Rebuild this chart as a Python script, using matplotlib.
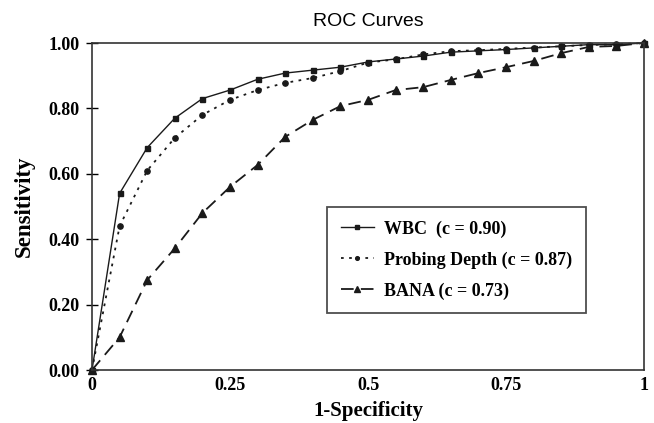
import matplotlib
matplotlib.use("Agg")
import matplotlib.pyplot as plt

x = [0.0, 0.05, 0.10, 0.15, 0.20, 0.25, 0.30, 0.35, 0.40, 0.45, 0.50,
     0.55, 0.60, 0.65, 0.70, 0.75, 0.80, 0.85, 0.90, 0.95, 1.0]
wbc = [0.0, 0.54, 0.68, 0.77, 0.83, 0.856, 0.889, 0.908, 0.917, 0.926, 0.942,
       0.951, 0.96, 0.972, 0.976, 0.98, 0.985, 0.99, 0.995, 0.995, 1.0]
probing = [0.0, 0.44, 0.61, 0.71, 0.78, 0.826, 0.856, 0.878, 0.893, 0.914, 0.94,
           0.95, 0.965, 0.975, 0.978, 0.982, 0.986, 0.99, 0.994, 0.996, 1.0]
bana = [0.0, 0.10, 0.275, 0.372, 0.48, 0.56, 0.627, 0.713, 0.765, 0.807, 0.826,
        0.856, 0.865, 0.887, 0.908, 0.926, 0.945, 0.969, 0.988, 0.991, 1.0]
labels = ["WBC  (c = 0.90)", "Probing Depth (c = 0.87)", "BANA (c = 0.73)"]
xticks = [0, 0.25, 0.5, 0.75, 1]
xticklabels = ["0", "0.25", "0.5", "0.75", "1"]
yticks = [0.0, 0.2, 0.4, 0.6, 0.8, 1.0]
yticklabels = ["0.00", "0.20", "0.40", "0.60", "0.80", "1.00"]

serif = ["Liberation Serif", "DejaVu Serif"]

fig = plt.figure(figsize=(6.54, 4.23), dpi=100)
ax = fig.add_axes([92/654, 1-370/423, (644-92)/654, (370-43)/423])

c = "#1a1a1a"
ax.plot(x, wbc, color=c, lw=1.0, ls="-", marker="s", ms=3.6, label=labels[0], clip_on=False)
ax.plot(x, probing, color=c, lw=1.3, ls=(0, (1.5, 3)), marker="o", ms=3.8, label=labels[1], clip_on=False)
ax.plot(x, bana, color=c, lw=1.3, ls=(0, (7, 4)), marker="^", ms=5.2, label=labels[2], clip_on=False)

ax.set_xlim(0, 1)
ax.set_ylim(0, 1)
ax.set_xticks(xticks)
ax.set_xticklabels(xticklabels)
ax.set_yticks(yticks)
ax.set_yticklabels(yticklabels)
for lab in ax.get_xticklabels() + ax.get_yticklabels():
    lab.set_fontfamily(serif)
    lab.set_fontweight("bold")
    lab.set_fontsize(13)
ax.tick_params(axis="x", length=0, pad=5)
ax.tick_params(axis="y", direction="inout", length=8, width=1, pad=5)
for s in ax.spines.values():
    s.set_color("#333333")
    s.set_linewidth(1.2)

ax.set_xlabel("1-Specificity", fontfamily=serif, fontweight="bold", fontsize=15)
ax.xaxis.set_label_coords(0.5, -(411 - 370) / 327)
ax.xaxis.label.set_va("center")
ax.set_ylabel("Sensitivity", fontfamily=serif, fontweight="bold", fontsize=16.5)
ax.yaxis.set_label_coords((24 - 92) / 552, 0.5)
ax.yaxis.label.set_va("center")
ax.set_title("ROC Curves", fontfamily=["Liberation Sans", "DejaVu Sans"], fontsize=14, pad=12)

leg = ax.legend(loc="upper left", bbox_to_anchor=((327-92)/552, 1-(207-43)/327),
                prop={"family": serif, "weight": "bold", "size": 13},
                frameon=True, fancybox=False, edgecolor="#222222",
                handlelength=1.85, labelspacing=0.75, borderpad=0.75, handletextpad=0.55,
                borderaxespad=0, markerscale=0.7)
leg.get_frame().set_linewidth(1.3)

fig.savefig("out.png", dpi=100)
